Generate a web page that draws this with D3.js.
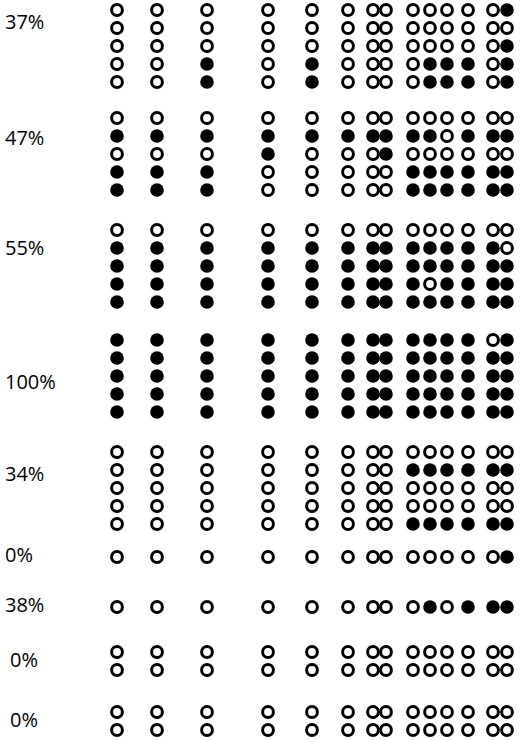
<!DOCTYPE html>
<html><head><meta charset="utf-8">
<script src="https://cdn.jsdelivr.net/npm/d3@7"></script>
<style>body{margin:0;background:#fff}</style>
</head><body><svg id="c" width="520" height="740"></svg>
<script>
// Data
const groupLabels = ["37%","47%","55%","100%","34%","0%","38%","0%","0%"];
const groupPatterns = [
  ["00000000000001","00000000000000","00000000000001","00101000011101","00101000011101"],
  ["00000000000000","11111111110111","00010001000000","11100000111111","11100000111111"],
  ["00000000000000","11111111111110","11111111111111","11111111101111","11111111111111"],
  ["11111111111101","11111111111111","11111111111111","11111111111111","11111111111111"],
  ["00000000000000","00000000111111","00000000000000","00000000000000","00000000111111"],
  ["00000000000001"],
  ["00000000010111"],
  ["00000000000000","00000000000000"],
  ["00000000000000","00000000000000"]
];
// Layout
const colX = [117,157,207,268,312,348,373,386,413,430,447,468,493,507];
const groupTop = [10,118,230,340,452,557,607,652,712];
const rowStep = 18;
const labelOffsets = [12,20,18,42,22,-2,-2,8,8];
const labelX = [5,5,5,5,5,5,5,10,10];

const svg = d3.select("#c");
const x = d3.scaleOrdinal().domain(d3.range(colX.length)).range(colX);
const cells = [];
groupPatterns.forEach((g,gi)=>g.forEach((row,ri)=>row.split("").forEach((v,ci)=>{
  cells.push({g:gi,r:ri,c:ci,filled:v==="1"});
})));
svg.selectAll("circle").data(cells).join("circle")
  .attr("cx",d=>x(d.c)).attr("cy",d=>groupTop[d.g]+d.r*rowStep)
  .attr("r",d=>d.filled?6.8:5.4)
  .attr("fill",d=>d.filled?"#000":"#fff")
  .attr("stroke","#000").attr("stroke-width",d=>d.filled?0:3);
svg.selectAll("text").data(groupLabels).join("text")
  .attr("x",(d,i)=>labelX[i]).attr("y",(d,i)=>groupTop[i]+labelOffsets[i]+7)
  .attr("font-family","'Open Sans','Noto Sans',sans-serif").attr("font-size",20)
  .attr("fill","#000").text(d=>d);
</script></body></html>
